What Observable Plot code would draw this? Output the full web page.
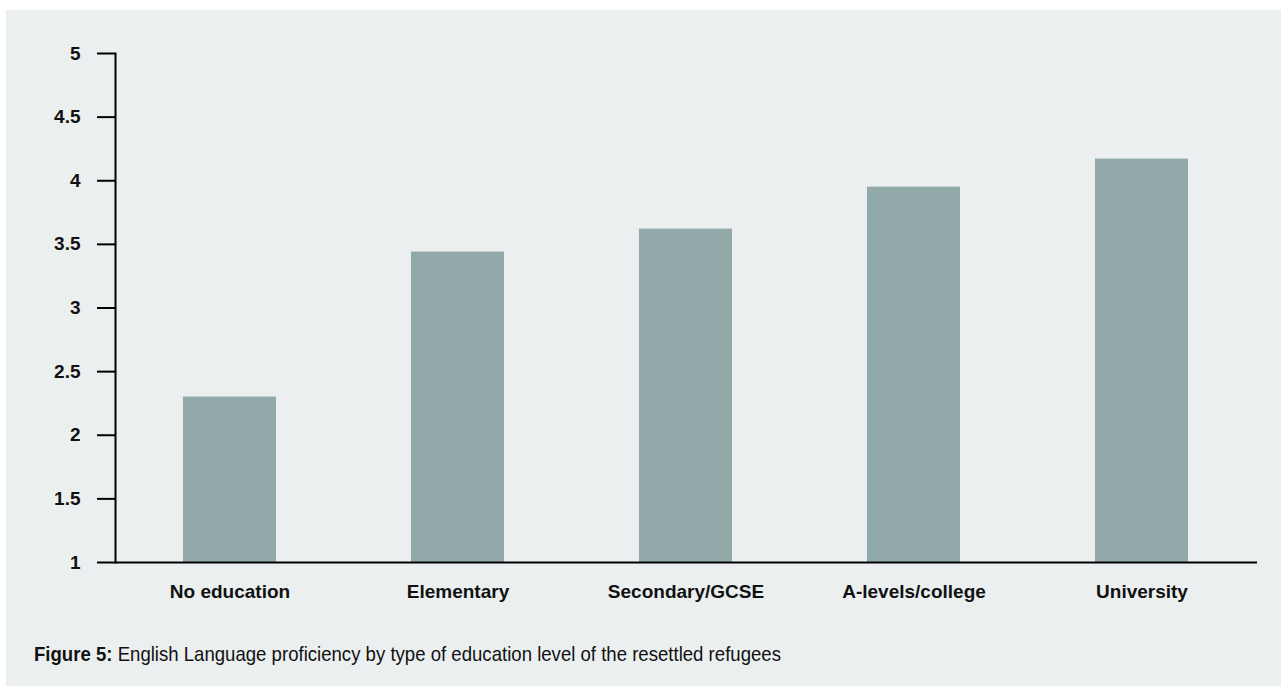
<!DOCTYPE html>
<html>
<head>
<meta charset="utf-8">
<script src="https://cdn.jsdelivr.net/npm/d3@7"></script>
<script src="https://cdn.jsdelivr.net/npm/@observablehq/plot@0.6"></script>
<style>
  html, body { margin: 0; padding: 0; background: #ffffff; width: 1281px; height: 686px; overflow: hidden; }
  #panel { position: absolute; left: 6px; top: 10px; width: 1275px; height: 676px; background: #ebeff0; }
  #chart { position: absolute; left: 0; top: 0; }
  #caption { position: absolute; left: 34px; top: 642px; font-family: "Liberation Sans", Arial, sans-serif; font-size: 21px; color: #111; white-space: nowrap; transform: scaleX(0.885); transform-origin: 0 0; }
  #caption b { font-weight: bold; }
</style>
</head>
<body>
<div id="panel"></div>
<div id="chart"></div>
<div id="caption"><b>Figure 5:</b> English Language proficiency by type of education level of the resettled refugees</div>
<script>
const categories = ["No education", "Elementary", "Secondary/GCSE", "A-levels/college", "University"];
const values = [2.30, 3.44, 3.62, 3.95, 4.17];
const yTicks = [1, 1.5, 2, 2.5, 3, 3.5, 4, 4.5, 5];

const data = categories.map((c, i) => ({category: c, value: values[i]}));

const chart = Plot.plot({
  width: 1281,
  height: 620,
  marginLeft: 115,
  marginRight: 24,
  marginTop: 53,
  marginBottom: 58,
  style: {background: "transparent", fontFamily: "'Liberation Sans', Arial, sans-serif", fontSize: "19px", fontWeight: "bold", color: "#111"},
  x: {domain: categories, paddingInner: 0.592, paddingOuter: 0.3, label: null},
  y: {domain: [1, 5], label: null},
  marks: [
    Plot.barY(data, {x: "category", y1: 1, y2: "value", fill: "#91a9a8"}),
    Plot.axisY({ticks: yTicks, tickSize: 18, tickPadding: 17, strokeWidth: 2, stroke: "#000", tickFormat: d => String(d), fontSize: 19, fontWeight: "bold"}),
    Plot.axisX({tickSize: 0, tickPadding: 22, fontSize: 19, fontWeight: "bold"}),
    Plot.frame({anchor: "left", stroke: "#000", strokeWidth: 2}),
    Plot.ruleY([1], {stroke: "#000", strokeWidth: 2})
  ]
});
document.getElementById("chart").appendChild(chart);
</script>
</body>
</html>
